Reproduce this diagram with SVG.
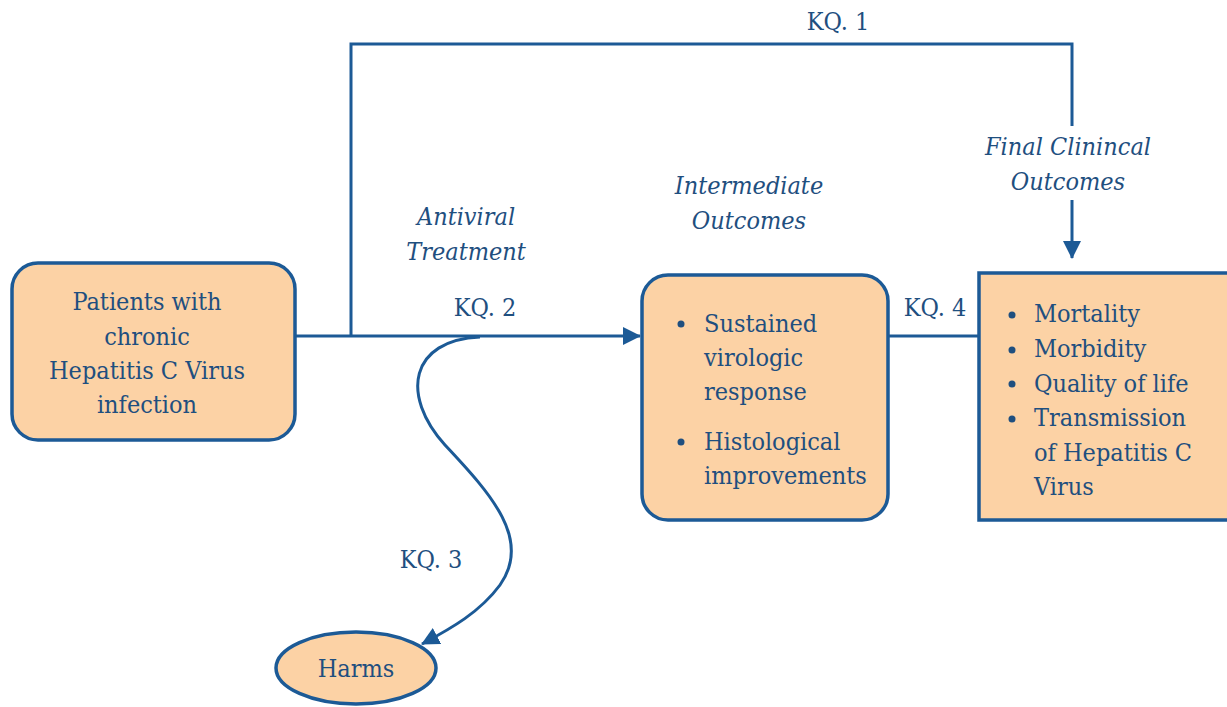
<svg xmlns="http://www.w3.org/2000/svg" width="1227" height="707" viewBox="0 0 1227 707">
<style>
.box{fill:#fcd2a5;stroke:#1c5a96;stroke-width:3.5}
.ln{fill:none;stroke:#1c5a96;stroke-width:3}
text{font-family:'DejaVu Serif Condensed','DejaVu Serif',serif;font-size:25px;fill:#1f4f7f}
.i{font-style:italic}
.c{text-anchor:middle}
.b{fill:#1f4f7f}
</style>
<defs>
<marker id="ahL" markerWidth="18" markerHeight="18" refX="17" refY="9" orient="auto" markerUnits="userSpaceOnUse" viewBox="0 0 18 18">
<path d="M0,0 L18,9 L0,18 Z" fill="#1c5a96"/>
</marker>
</defs>
<rect width="1227" height="707" fill="#ffffff"/>
<g id="connectors">
<path class="ln" d="M295,336 L640,336" marker-end="url(#ahL)"/>
<path class="ln" d="M351,336 L351,44 L1072,44 L1072,126"/>
<path class="ln" d="M1072,200 L1072,258" marker-end="url(#ahL)"/>
<path class="ln" d="M888,336 L978,336"/>
<path class="ln" d="M480,337 C410,340 400,395 445,445 C492,495 532,540 500,585 C480,612 452,628 422,644" marker-end="url(#ahL)"/>
<text class="c" x="838" y="30">KQ. 1</text>
<text class="c" x="485" y="316">KQ. 2</text>
<text class="c" x="431" y="568">KQ. 3</text>
<text class="c" x="935" y="316">KQ. 4</text>
<text class="i c" x="466" y="225">Antiviral</text>
<text class="i c" x="466" y="260">Treatment</text>
<text class="i c" x="749" y="194">Intermediate</text>
<text class="i c" x="749" y="229">Outcomes</text>
<text class="i c" x="1068" y="155">Final Clinincal</text>
<text class="i c" x="1068" y="190">Outcomes</text>
</g>
<g id="patients">
<rect class="box" x="12" y="263" width="283" height="177" rx="26"/>
<text class="c" x="147" y="310">Patients with</text>
<text class="c" x="147" y="345">chronic</text>
<text class="c" x="147" y="379">Hepatitis C Virus</text>
<text class="c" x="147" y="413">infection</text>
</g>
<g id="intermediate">
<rect class="box" x="642" y="275" width="246" height="245" rx="26"/>
<circle class="b" cx="681" cy="324" r="3.5"/>
<text x="704" y="332">Sustained</text>
<text x="704" y="366">virologic</text>
<text x="704" y="400">response</text>
<circle class="b" cx="681" cy="442" r="3.5"/>
<text x="704" y="450">Histological</text>
<text x="704" y="484">improvements</text>
</g>
<g id="final">
<rect class="box" x="979" y="273" width="250" height="247"/>
<circle class="b" cx="1012" cy="315" r="3.5"/>
<text x="1034" y="322">Mortality</text>
<circle class="b" cx="1012" cy="350" r="3.5"/>
<text x="1034" y="357">Morbidity</text>
<circle class="b" cx="1012" cy="384" r="3.5"/>
<text x="1034" y="392">Quality of life</text>
<circle class="b" cx="1012" cy="419" r="3.5"/>
<text x="1034" y="426">Transmission</text>
<text x="1034" y="461">of Hepatitis C</text>
<text x="1034" y="495">Virus</text>
</g>
<g id="harms">
<ellipse class="box" cx="356" cy="668" rx="80" ry="36"/>
<text class="c" x="356" y="677">Harms</text>
</g>
</svg>
